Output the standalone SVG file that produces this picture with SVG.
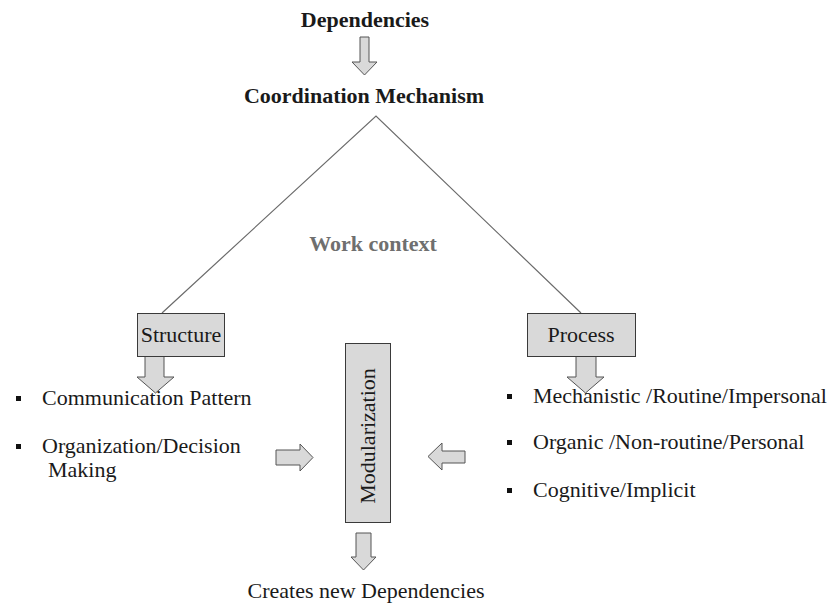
<svg xmlns="http://www.w3.org/2000/svg" width="834" height="605" viewBox="0 0 834 605">
  <style>
    .t { font-family: "Liberation Serif", "Times New Roman", serif; font-size: 22px; fill: #1a1a1a; }
    .b { font-weight: bold; }
    .mid { text-anchor: middle; }
    .ctx { fill: #6f6f6f; }
    .box { fill: #d9d9d9; stroke: #3a3a3a; stroke-width: 1; }
    .arw { fill: #d9d9d9; stroke: #555555; stroke-width: 1; stroke-linejoin: miter; }
    .ln { stroke: #6b6b6b; stroke-width: 1.2; fill: none; }
    .bul { fill: #111111; }
  </style>

  <rect width="834" height="605" fill="#ffffff"/>

  <!-- headings -->
  <g id="dependencies">
    <text class="t b mid" x="365" y="27">Dependencies</text>
  </g>
  <g id="coordination">
    <text class="t b mid" x="364" y="103">Coordination Mechanism</text>
  </g>
  <g id="work-context">
    <text class="t b mid ctx" x="373" y="251">Work context</text>
  </g>

  <!-- connectors: branching lines and block arrows -->
  <g id="connectors">
    <polyline class="ln" points="162,313 376,116 581,313"/>
    <!-- Dependencies -> Coordination -->
    <polygon class="arw" points="360,37 369,37 369,62 377,62 364.5,75 352,62 360,62"/>
    <!-- Structure down -->
    <polygon class="arw" points="145,356 164,356 164,377 174,377 155.5,393 137,377 145,377"/>
    <!-- Process down -->
    <polygon class="arw" points="576,356 596,356 596,377 604,377 585.5,393 567,377 576,377"/>
    <!-- Modularization down -->
    <polygon class="arw" points="356,533 371,533 371,557 376,557 363.5,570 351,557 356,557"/>
    <!-- left list -> Modularization -->
    <polygon class="arw" points="276,450 300,450 300,444 313,457.5 300,471 300,465 276,465"/>
    <!-- right list -> Modularization -->
    <polygon class="arw" points="465,451 442,451 442,443 428,456.5 442,470 442,463 465,463"/>
  </g>

  <g id="structure">
    <rect class="box" x="137.5" y="313.5" width="87" height="43"/>
    <text class="t mid" x="181" y="342" fill="#333">Structure</text>
  </g>

  <g id="process">
    <rect class="box" x="527.5" y="313.5" width="108" height="43"/>
    <text class="t mid" x="581" y="342" fill="#333">Process</text>
  </g>

  <g id="modularization">
    <rect class="box" x="345.5" y="343.5" width="45" height="179"/>
    <text class="t mid" x="0" y="0" fill="#444" transform="translate(375,436) rotate(-90)">Modularization</text>
  </g>

  <g id="structure-items">
    <rect class="bul" x="16" y="396" width="5" height="5"/>
    <text class="t" x="42" y="405">Communication Pattern</text>
    <rect class="bul" x="16" y="444" width="5" height="5"/>
    <text class="t" x="42" y="453">Organization/Decision</text>
    <text class="t" x="48" y="477">Making</text>
  </g>

  <g id="process-items">
    <rect class="bul" x="507" y="394" width="5" height="5"/>
    <text class="t" x="533" y="403">Mechanistic /Routine/Impersonal</text>
    <rect class="bul" x="507" y="440" width="5" height="5"/>
    <text class="t" x="533" y="449">Organic /Non-routine/Personal</text>
    <rect class="bul" x="507" y="488" width="5" height="5"/>
    <text class="t" x="533" y="497">Cognitive/Implicit</text>
  </g>

  <g id="result">
    <text class="t mid" x="366" y="598">Creates new Dependencies</text>
  </g>
</svg>
